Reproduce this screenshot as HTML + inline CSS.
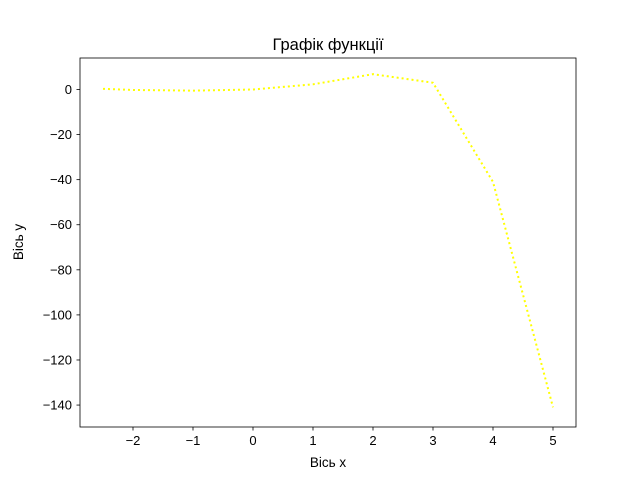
<!DOCTYPE html>
<html><head><meta charset="utf-8"><style>
body{margin:0;background:#fff}
svg text{font-family:"Liberation Sans","DejaVu Sans",sans-serif;fill:#000}
</style></head><body>
<svg width="640" height="480" id="c">
<rect width="640" height="480" fill="#fff"/>
<text x="328" y="50" font-size="16.5" text-anchor="middle">Графік функції</text>
<text x="328" y="467" font-size="13.5" text-anchor="middle">Вісь x</text>
<text transform="translate(23,242) rotate(-90)" font-size="13.5" text-anchor="middle">Вісь y</text>
<g id="ticks"></g>
<polyline id="line" fill="none" stroke="#ffff00" stroke-width="2" stroke-dasharray="2,3"/>
<rect x="80" y="58" width="496" height="369" fill="none" stroke="#000" stroke-width="0.8"/>
</svg>
<script>
const xs=[-2.5,-2,-1,0,1,2,3,4,5];
const ys=[0.3,-0.2,-0.5,0,2.3,6.8,3,-41,-141];
const xTicks=[-2,-1,0,1,2,3,4,5];
const yTicks=[0,-20,-40,-60,-80,-100,-120,-140];
const X=v=>253+v*60, Y=v=>89.5-v*2.254;
const NS="http://www.w3.org/2000/svg";
const g=document.getElementById('ticks');
function mk(t,a){const e=document.createElementNS(NS,t);for(const k in a)e.setAttribute(k,a[k]);g.appendChild(e);return e;}
xTicks.forEach(v=>{
 const l=mk('line',{x1:X(v),x2:X(v),y1:427,y2:430.5,stroke:'#000','stroke-width':0.8});
 
 
 const t=mk('text',{x:X(v),y:445,'font-size':13,'text-anchor':'middle'});
 t.textContent=v<0?'\u2212'+(-v):v;
 
 
});
yTicks.forEach(v=>{
 const l=mk('line',{x1:76.5,x2:80,y1:Y(v),y2:Y(v),stroke:'#000','stroke-width':0.8});
 
 
 const t=mk('text',{x:72,y:Y(v)+4.5,'font-size':13,'text-anchor':'end'});
 t.textContent=v<0?'\u2212'+(-v):v;
 
 
});
document.getElementById('line').setAttribute('points',xs.map((x,i)=>X(x)+','+Y(ys[i])).join(' '));
</script>
</body></html>
